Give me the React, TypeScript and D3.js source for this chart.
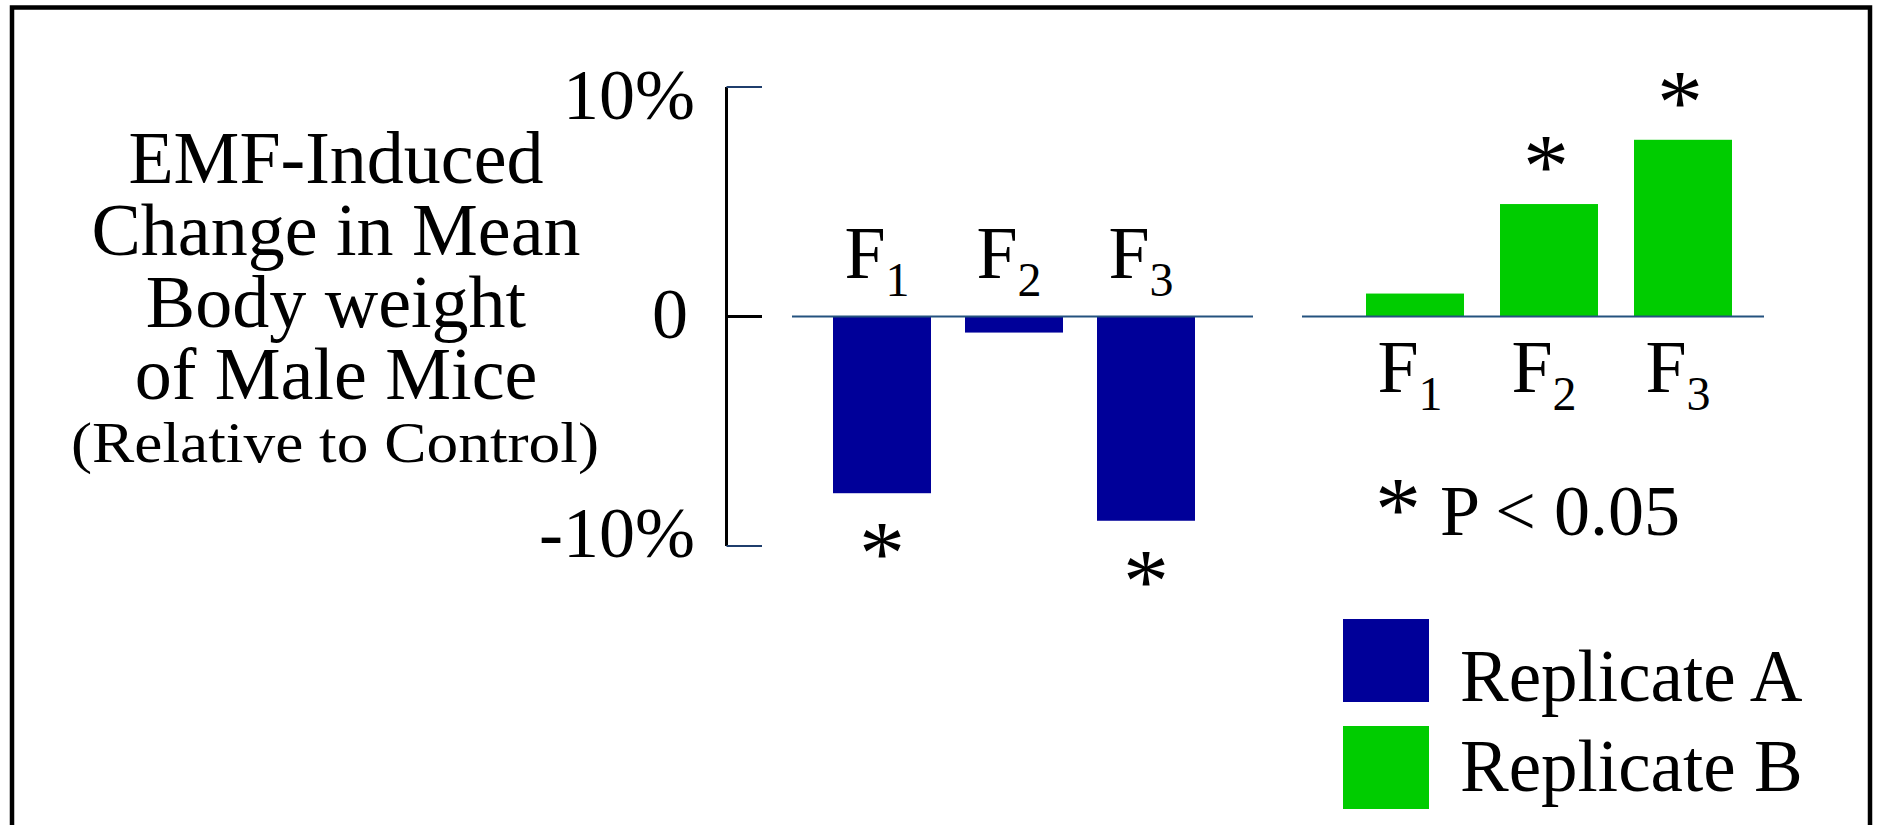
import React from "react";
import * as d3 from "d3";

// Generations and the EMF-induced change (%) in mean body weight per replicate
const generations = ["F1", "F2", "F3"];
const generationSubscripts = ["1", "2", "3"];
const replicateA = [-7.7, -0.7, -8.9];
const replicateB = [1.0, 4.9, 7.7];
const significantA = [true, false, true];
const significantB = [false, true, true];

const yTicks = [10, 0, -10];
const yTickLabels = ["10%", "0", "-10%"];

const titleLines = ["EMF-Induced", "Change in Mean", "Body weight", "of Male Mice"];
const titleNote = "(Relative to Control)";
const legendLabels = ["Replicate A", "Replicate B"];
const pNote = "P < 0.05";

const W = 1878;
const H = 825;
const FONT = '"Liberation Serif", "Times New Roman", Times, serif';
const BLUE = "#000099";
const GREEN = "#00CC00";
const BASE = "#24527f";
const TICK_BLUE = "#1f3e6c";

export default function App() {
  const y = d3.scaleLinear().domain([-10, 10]).range([546, 87]);
  const yLabel = d3.scaleLinear().domain([-10, 10]).range([557, 119]);
  const xA = d3.scalePoint<string>().domain(generations).range([882, 1146]);
  const xB = d3.scalePoint<string>().domain(generations).range([1415, 1683]);
  const barW = 98;
  const y0 = y(0);

  const axisX = 726.5;
  const tickEnd = 762;

  const asteriskSize = 92;

  const renderLabel = (cx: number, baseline: number, i: number) => (
    <text
      key={"lab" + i}
      x={cx}
      y={baseline}
      textAnchor="middle"
      fontFamily={FONT}
      fontSize={74}
      fill="#000"
    >
      {generations[i].charAt(0)}
      <tspan fontSize={48} dy={18}>
        {generationSubscripts[i]}
      </tspan>
    </text>
  );

  return (
    <svg
      width={W}
      height={H}
      style={{ position: "absolute", left: 0, top: 0, background: "#fff" }}
    >
      <rect x={0} y={0} width={W} height={H} fill="#fff" />
      {/* frame */}
      <rect x={12} y={7.5} width={1858} height={900} fill="none" stroke="#000" strokeWidth={4.5} />

      {/* y-axis title */}
      <text fontFamily={FONT} fill="#000" textAnchor="middle" fontSize={74} x={336} y={183}>
        {titleLines.map((t, i) => (
          <tspan key={t} x={336} dy={i === 0 ? 0 : 72}>
            {t}
          </tspan>
        ))}
        <tspan
          x={335}
          dy={63}
          fontSize={57}
          textLength={528}
          lengthAdjust="spacingAndGlyphs"
        >
          {titleNote}
        </tspan>
      </text>

      {/* y axis */}
      <line x1={axisX} x2={axisX} y1={y(10)} y2={y(-10)} stroke="#000" strokeWidth={3} />
      {yTicks.map((v) => (
        <line
          key={"t" + v}
          x1={axisX}
          x2={tickEnd}
          y1={y(v)}
          y2={y(v)}
          stroke={v === 0 ? "#000" : TICK_BLUE}
          strokeWidth={v === 0 ? 3 : 2}
        />
      ))}
      {yTicks.map((v, i) => (
        <text
          key={"tl" + v}
          x={v === 0 ? 688 : 695}
          y={yLabel(v)}
          textAnchor="end"
          fontFamily={FONT}
          fontSize={72}
          fill="#000"
        >
          {yTickLabels[i]}
        </text>
      ))}

      {/* Replicate A bars */}
      {generations.map((g, i) => {
        const v = replicateA[i];
        return (
          <rect
            key={"a" + g}
            x={(xA(g) as number) - barW / 2}
            y={Math.min(y(v), y0)}
            width={barW}
            height={Math.abs(y(v) - y0)}
            fill={BLUE}
          />
        );
      })}
      <line x1={792} x2={1253} y1={y0} y2={y0} stroke={BASE} strokeWidth={2} />
      {generations.map((g, i) => renderLabel((xA(g) as number) - 5, y0 - 39, i))}
      {generations.map((g, i) =>
        significantA[i] ? (
          <text
            key={"sa" + g}
            x={xA(g) as number}
            y={y(replicateA[i]) + 91}
            textAnchor="middle"
            fontFamily={FONT}
            fontSize={asteriskSize}
            fill="#000"
          >
            *
          </text>
        ) : null
      )}

      {/* Replicate B bars */}
      {generations.map((g, i) => {
        const v = replicateB[i];
        return (
          <rect
            key={"b" + g}
            x={(xB(g) as number) - barW / 2}
            y={Math.min(y(v), y0)}
            width={barW}
            height={Math.abs(y(v) - y0)}
            fill={GREEN}
          />
        );
      })}
      <line x1={1302} x2={1764} y1={y0} y2={y0} stroke={BASE} strokeWidth={2} />
      {generations.map((g, i) => renderLabel((xB(g) as number) - 5, y0 + 75, i))}
      {generations.map((g, i) =>
        significantB[i] ? (
          <text
            key={"sb" + g}
            x={(xB(g) as number) - 3}
            y={y(replicateB[i]) - 7}
            textAnchor="middle"
            fontFamily={FONT}
            fontSize={asteriskSize}
            fill="#000"
          >
            *
          </text>
        ) : null
      )}

      {/* significance note */}
      <text x={1398} y={540} textAnchor="middle" fontFamily={FONT} fontSize={asteriskSize} fill="#000">
        *
      </text>
      <text x={1440} y={535} fontFamily={FONT} fontSize={72} fill="#000">
        {pNote}
      </text>

      {/* legend */}
      {legendLabels.map((l, i) => (
        <g key={l}>
          <rect x={1343} y={619 + i * 107} width={86} height={83} fill={i === 0 ? BLUE : GREEN} />
          <text x={1460} y={701 + i * 90} fontFamily={FONT} fontSize={73} fill="#000">
            {l}
          </text>
        </g>
      ))}
    </svg>
  );
}
